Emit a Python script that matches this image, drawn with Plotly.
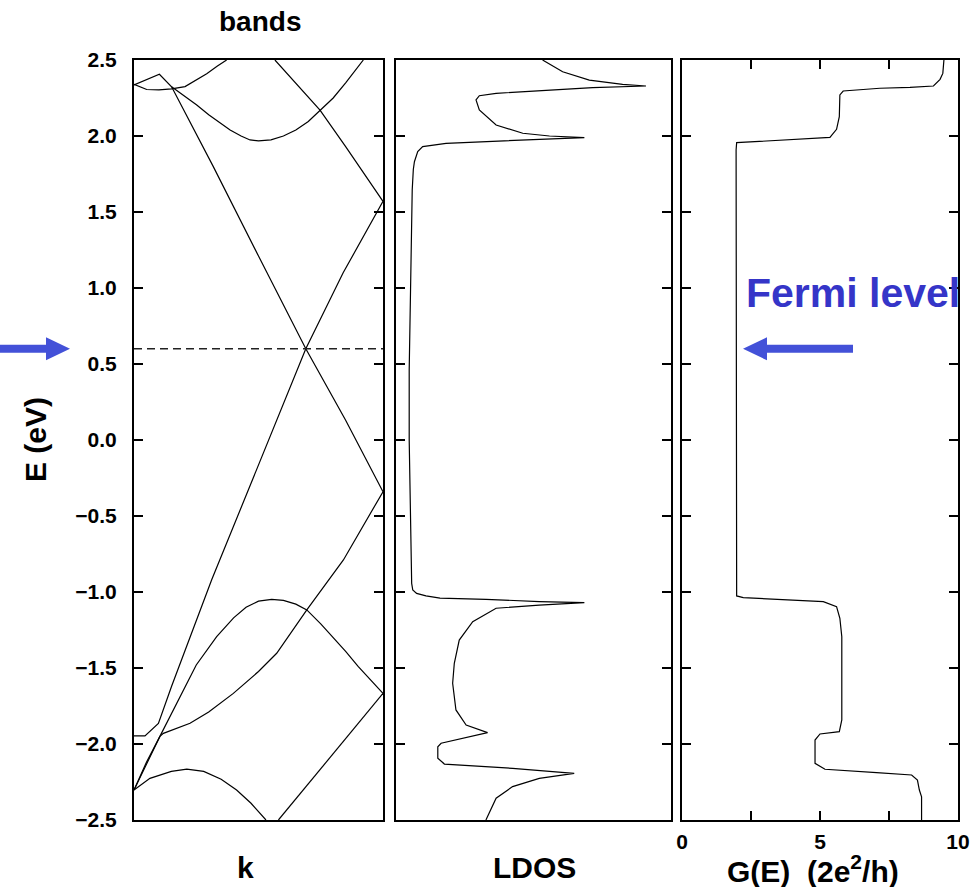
import plotly.graph_objects as go

# ---------------- data ----------------
FERMI = 0.6
E_MIN, E_MAX = -2.5, 2.5

band1_k = [0.0, 0.102, 0.151, 0.318, 0.5, 0.69, 0.85, 1.0]
band1_E = [2.336, 2.406, 2.324, 1.80, 1.21, 0.60, 0.13, -0.34]

band2_k = [0.0, 0.051, 0.10, 0.151, 0.205, 0.252, 0.292, 0.335, 0.372]
band2_E = [2.34, 2.306, 2.303, 2.31, 2.325, 2.37, 2.41, 2.46, 2.5]

band3_k = [0.151, 0.2, 0.252, 0.3, 0.386, 0.43, 0.466, 0.5, 0.55, 0.6, 0.65, 0.7, 0.747, 0.8, 0.85, 0.9, 0.921]
band3_E = [2.324, 2.265, 2.204, 2.14, 2.039, 2.0, 1.974, 1.968, 1.975, 2.0, 2.04, 2.095, 2.171, 2.25, 2.35, 2.46, 2.5]

band4_k = [0.566, 0.65, 0.747, 0.85, 0.93, 1.0]
band4_E = [2.5, 2.35, 2.17, 1.93, 1.74, 1.57]

band5_k = [0.0, 0.044, 0.098, 0.151, 0.312, 0.5, 0.69, 0.84, 1.0]
band5_E = [-1.947, -1.947, -1.864, -1.62, -0.92, -0.16, 0.60, 1.10, 1.57]

band6_k = [0.0, 0.05, 0.104, 0.118, 0.17, 0.225, 0.30, 0.399, 0.5, 0.573, 0.694, 0.841, 1.0]
band6_E = [-2.303, -2.13, -1.95, -1.93, -1.90, -1.864, -1.79, -1.667, -1.523, -1.403, -1.118, -0.789, -0.34]

band7_k = [0.0, 0.05, 0.104, 0.15, 0.198, 0.25, 0.332, 0.4, 0.45, 0.5, 0.553, 0.6, 0.65, 0.694, 0.75, 0.8, 0.85, 0.9, 0.95, 1.0]
band7_E = [-2.303, -2.12, -1.95, -1.80, -1.645, -1.48, -1.294, -1.17, -1.10, -1.06, -1.048, -1.055, -1.08, -1.118, -1.21, -1.30, -1.39, -1.49, -1.58, -1.667]

band8_k = [0.0, 0.064, 0.15, 0.212, 0.28, 0.35, 0.412, 0.47, 0.53]
band8_E = [-2.303, -2.226, -2.18, -2.166, -2.18, -2.232, -2.303, -2.39, -2.5]

band9_k = [0.58, 0.7, 0.85, 1.0]
band9_E = [-2.5, -2.262, -1.965, -1.667]

ldos_x = [0.533, 0.606, 0.703, 0.824, 0.909, 0.837, 0.715, 0.364, 0.303, 0.291, 0.303, 0.364,
          0.461, 0.558, 0.685, 0.545, 0.339, 0.182, 0.097, 0.079, 0.067, 0.063, 0.059, 0.054,
          0.048, 0.048, 0.052, 0.057, 0.057, 0.061, 0.075, 0.109, 0.16, 0.327, 0.521, 0.685,
          0.521, 0.364, 0.279, 0.230, 0.212, 0.206, 0.218, 0.255, 0.333, 0.164, 0.152, 0.152,
          0.176, 0.424, 0.648, 0.521, 0.424, 0.364, 0.327]
ldos_E = [2.5, 2.423, 2.368, 2.34, 2.329, 2.324, 2.318, 2.281, 2.265, 2.237, 2.171, 2.072,
          2.018, 2.0, 1.989, 1.98, 1.963, 1.952, 1.93, 1.897, 1.831, 1.78, 1.645, 1.2,
          0.46, 0.0, -0.5, -0.789, -0.943, -0.987, -1.009, -1.026, -1.04, -1.048, -1.063, -1.07,
          -1.086, -1.107, -1.195, -1.316, -1.469, -1.6, -1.776, -1.875, -1.925, -1.995, -2.018, -2.094,
          -2.132, -2.16, -2.193, -2.226, -2.28, -2.357, -2.5]

g_G = [9.49, 9.45, 9.35, 9.11, 8.26, 7.17, 5.84, 5.72, 5.70, 5.6, 5.36, 4.03, 1.98, 1.96,
       1.96, 1.98, 2.22, 4.16, 5.12, 5.6, 5.72, 5.79, 5.79, 5.7, 5.0, 4.82, 4.82, 5.18,
       6.09, 7.05, 8.32, 8.53, 8.6, 8.68, 8.68]
g_E = [2.5, 2.412, 2.373, 2.329, 2.32, 2.314, 2.296, 2.27, 2.127, 2.044, 1.991, 1.978, 1.956, 1.908,
       0.0, -1.026, -1.037, -1.057, -1.063, -1.096, -1.173, -1.294, -1.842, -1.919, -1.934, -1.974, -2.127, -2.166,
       -2.175, -2.188, -2.204, -2.237, -2.303, -2.347, -2.5]

g_tickvals = [0, 2.5, 5, 7.5, 10]
g_ticktext = ["0", "", "5", "", "10"]

# ---------------- layout geometry ----------------
W, H = 976, 887
ML, MR, MT, MB = 134, 18, 60, 67
PW, PH = W - ML - MR, H - MT - MB


def px2x(px):
    return (px - ML) / PW


def py2y(py):
    return (H - MB - py) / PH


FONT = "Liberation Sans, Arial, Helvetica, sans-serif"
LINE = dict(color="black", width=1.2)

fig = go.Figure()

bands = [(band1_k, band1_E), (band2_k, band2_E), (band3_k, band3_E), (band4_k, band4_E),
         (band5_k, band5_E), (band6_k, band6_E), (band7_k, band7_E), (band8_k, band8_E),
         (band9_k, band9_E)]
for kk, ee in bands:
    fig.add_trace(go.Scatter(x=kk, y=ee, mode="lines", line=LINE, xaxis="x", yaxis="y",
                             showlegend=False, hoverinfo="skip"))

fig.add_trace(go.Scatter(x=[0, 1], y=[FERMI, FERMI], mode="lines",
                         line=dict(color="#222222", width=1.5, dash="8px,5px"),
                         xaxis="x", yaxis="y", showlegend=False, hoverinfo="skip"))

fig.add_trace(go.Scatter(x=ldos_x, y=ldos_E, mode="lines", line=LINE, xaxis="x2", yaxis="y2",
                         showlegend=False, hoverinfo="skip"))
fig.add_trace(go.Scatter(x=g_G, y=g_E, mode="lines", line=LINE, xaxis="x3", yaxis="y3",
                         showlegend=False, hoverinfo="skip"))

tickfont = dict(family=FONT, size=21, color="black", weight="bold")
yax = dict(range=[E_MIN, E_MAX], dtick=0.5, tick0=E_MIN, ticks="inside", ticklen=9, tickwidth=1.5,
           tickcolor="black", showline=True, linecolor="black", linewidth=2, mirror="ticks",
           showgrid=False, zeroline=False, automargin=False)
xax_plain = dict(range=[0, 1], showline=True, linecolor="black", linewidth=2, mirror=True,
                 ticks="", showticklabels=False, showgrid=False, zeroline=False, automargin=False)

d1 = [0, px2x(383)]
d2 = [px2x(396), px2x(671)]
d3 = [px2x(682), 1.0]

fig.update_layout(
    template="none",
    width=W, height=H, autosize=False,
    margin=dict(l=ML, r=MR, t=MT, b=MB, pad=0, autoexpand=False),
    paper_bgcolor="white", plot_bgcolor="white",
    xaxis=dict(domain=d1, anchor="y", **xax_plain),
    xaxis2=dict(domain=d2, anchor="y2", **xax_plain),
    xaxis3=dict(domain=d3, anchor="y3", range=[0, 10], tickmode="array", tickvals=g_tickvals,
                ticktext=g_ticktext, ticks="inside", ticklen=9, tickwidth=1.5, tickcolor="black",
                showline=True, linecolor="black", linewidth=2, mirror="ticks", showgrid=False,
                zeroline=False, tickfont=tickfont, ticklabelstandoff=2, automargin=False),
    yaxis=dict(anchor="x", showticklabels=True, tickformat=".1f", tickfont=tickfont,
               ticklabelstandoff=11, **yax),
    yaxis2=dict(anchor="x2", showticklabels=False, **yax),
    yaxis3=dict(anchor="x3", showticklabels=False, **yax),
    showlegend=False,
)

TITLE_FONT = dict(family=FONT, size=30, color="black", weight="bold")
ann = [
    dict(text="bands", x=px2x(260), y=py2y(21), font=dict(family=FONT, size=28, color="black", weight="bold")),
    dict(text="k", x=px2x(245), y=py2y(867), font=TITLE_FONT),
    dict(text="LDOS", x=px2x(534), y=py2y(867), font=TITLE_FONT),
    dict(text="G(E)  (2e<sup>2</sup>/h)", x=px2x(813), y=py2y(869), font=TITLE_FONT),
    dict(text="E (eV)", x=px2x(35), y=0.5, textangle=-90, font=TITLE_FONT),
]
for a in ann:
    fig.add_annotation(xref="paper", yref="paper", showarrow=False, xanchor="center", yanchor="middle", **a)

fig.add_annotation(xref="paper", yref="paper", showarrow=False, text="Fermi level",
                   x=px2x(744), y=py2y(293), xanchor="left", yanchor="middle",
                   font=dict(family=FONT, size=41, color="#3535c8", weight="bold"))

# Fermi-level arrows (decorations), vertical position tied to FERMI
yf = (FERMI - E_MIN) / (E_MAX - E_MIN)
t = 4 / PH
h = 11.5 / PH


def arrow_path(x_tail, x_head_base, x_tip):
    xs = [x_tail, x_head_base, x_head_base, x_tip, x_head_base, x_head_base, x_tail]
    ys = [yf - t, yf - t, yf - h, yf, yf + h, yf + t, yf + t]
    return "M " + " L ".join(f"{a:.5f},{b:.5f}" for a, b in zip(xs, ys)) + " Z"


ARROW_COLOR = "#4351d8"
fig.add_shape(type="path", xref="paper", yref="paper", path=arrow_path(px2x(0), px2x(46), px2x(70)),
              fillcolor=ARROW_COLOR, line=dict(width=0), layer="above")
fig.add_shape(type="path", xref="paper", yref="paper", path=arrow_path(px2x(853), px2x(767), px2x(743)),
              fillcolor=ARROW_COLOR, line=dict(width=0), layer="above")

fig.write_html(
    "out.html",
    config={"responsive": False},
    post_script="document.documentElement.style.overflow='hidden';document.body.style.margin='0';document.body.style.overflow='hidden';",
)
